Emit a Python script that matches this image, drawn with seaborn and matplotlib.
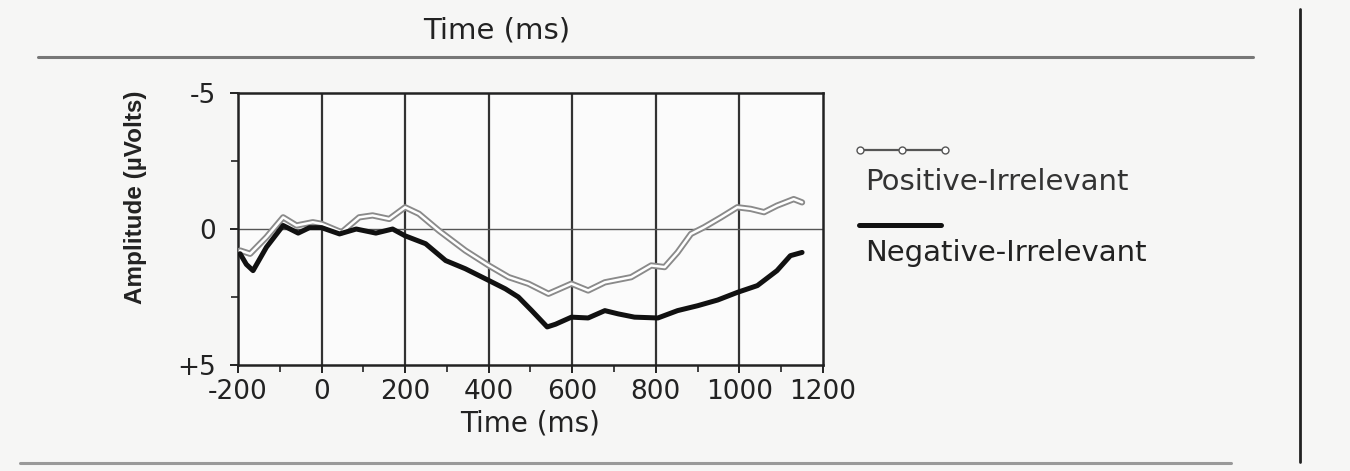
import numpy as np
import pandas as pd
import matplotlib.pyplot as plt
import seaborn as sns
from matplotlib.lines import Line2D
from matplotlib.ticker import MultipleLocator

# ---------------- DATA ----------------
pos_time = [-195, -171, -132, -92, -60, -21, 0, 48, 90, 122, 162, 200, 233, 281,
            344, 400, 448, 495, 543, 598, 638, 678, 741, 789, 821, 852, 884, 916,
            956, 995, 1027, 1059, 1090, 1130, 1150]
pos_amp = [0.79, 0.91, 0.30, -0.43, -0.13, -0.25, -0.19, 0.12, -0.43, -0.50, -0.37,
           -0.80, -0.56, 0.06, 0.79, 1.34, 1.77, 2.01, 2.38, 2.01, 2.26, 1.96, 1.77,
           1.34, 1.40, 0.86, 0.18, -0.07, -0.43, -0.80, -0.74, -0.62, -0.86, -1.10, -0.98]

neg_time = [-195, -180, -164, -132, -92, -56, -29, 0, 43, 83, 130, 170, 200, 249,
            297, 344, 400, 440, 471, 503, 540, 560, 598, 638, 678, 710, 749, 805,
            852, 900, 948, 995, 1043, 1090, 1122, 1150]
neg_amp = [0.91, 1.30, 1.53, 0.67, -0.13, 0.15, -0.05, -0.05, 0.18, 0.00, 0.15, 0.00,
           0.25, 0.54, 1.16, 1.46, 1.89, 2.20, 2.50, 3.00, 3.60, 3.50, 3.24, 3.27, 3.00,
           3.12, 3.24, 3.27, 3.00, 2.82, 2.61, 2.33, 2.08, 1.53, 0.98, 0.86]

labels = ["Positive-Irrelevant", "Negative-Irrelevant"]
x_ticks = [-200, 0, 200, 400, 600, 800, 1000, 1200]
y_ticks = [-5, 0, 5]
y_tick_labels = ["-5", "0", "+5"]

pos_df = pd.DataFrame({"time": pos_time, "amp": pos_amp})
neg_df = pd.DataFrame({"time": neg_time, "amp": neg_amp})

# ---------------- FIGURE ----------------
sns.set_style("white")
plt.rcParams["font.family"] = ["DejaVu Sans"]
plt.rcParams["axes.unicode_minus"] = False

fig = plt.figure(figsize=(13.5, 4.71), dpi=100)
fig.patch.set_facecolor("#f6f6f5")
ax = fig.add_axes([0.1763, 0.225, 0.4333, 0.5775])
ax.set_facecolor("#fbfbfb")

# gridlines
for xt in x_ticks[1:-1]:
    ax.axvline(xt, color="#333333", lw=1.6, zorder=1)
ax.axhline(0, color="#555555", lw=1.0, zorder=1)

# positive: hollow grey tube (overlapping open circles in the scan)
sns.lineplot(data=pos_df, x="time", y="amp", ax=ax, color="#8a8a8a", lw=4.5, zorder=3)
sns.lineplot(data=pos_df, x="time", y="amp", ax=ax, color="white", lw=1.8, zorder=4)
# negative: thick black
sns.lineplot(data=neg_df, x="time", y="amp", ax=ax, color="#111111", lw=3.6, zorder=5)

ax.set_xlim(-200, 1200)
ax.set_ylim(5, -5)
ax.set_xticks(x_ticks)
ax.xaxis.set_minor_locator(MultipleLocator(100))
ax.set_yticks(y_ticks)
ax.set_yticklabels(y_tick_labels)
ax.yaxis.set_minor_locator(MultipleLocator(2.5))
ax.tick_params(axis="both", which="both", bottom=True, left=True)
ax.tick_params(axis="both", which="major", direction="out", length=6, width=1.4,
               labelsize=19, colors="#222222", pad=4)
ax.tick_params(axis="both", which="minor", direction="out", length=5, width=1.2,
               colors="#222222")
ax.tick_params(axis="y", which="major", pad=10)
for s in ax.spines.values():
    s.set_visible(True)
    s.set_color("#222222")
    s.set_linewidth(1.8)

ax.set_xlabel("Time (ms)", fontsize=20, color="#222222", labelpad=3)
ax.set_ylabel("Amplitude (\u00b5Volts)", fontsize=17.5, color="#222222",
              family=["Liberation Sans", "DejaVu Sans"], fontweight="bold")
ax.yaxis.set_label_coords(-0.156, 0.615)

# legend drawn beside the axes, text below each key
leg_pos = Line2D([0.637, 0.700], [0.682, 0.682], transform=fig.transFigure,
                 color="#555555", lw=1.6, marker="o", markersize=5,
                 markerfacecolor="white", markeredgecolor="#555555",
                 markevery=[0, 1])
leg_pos_mid = Line2D([0.6685], [0.682], transform=fig.transFigure, color="#555555",
                     marker="o", markersize=5, markerfacecolor="white", lw=0)
leg_neg = Line2D([0.636, 0.697], [0.522, 0.522], transform=fig.transFigure,
                 color="#111111", lw=3.6)
fig.add_artist(leg_pos)
fig.add_artist(leg_pos_mid)
fig.add_artist(leg_neg)
fig.text(0.641, 0.613, labels[0], fontsize=21, color="#333333", va="center")
fig.text(0.641, 0.463, labels[1], fontsize=21, color="#222222", va="center")

# page furniture from the scanned figure
fig.text(0.368, 0.935, "Time (ms)", fontsize=21, color="#222222", ha="center",
         va="center")
fig.add_artist(Line2D([0.028, 0.928], [0.879, 0.879], transform=fig.transFigure,
                      color="#777777", lw=2.2))
fig.add_artist(Line2D([0.015, 0.912], [0.017, 0.017], transform=fig.transFigure,
                      color="#999999", lw=2.2))
fig.add_artist(Line2D([0.963, 0.963], [0.02, 0.98], transform=fig.transFigure,
                      color="#222222", lw=2.0))

fig.savefig("out.png", dpi=100, facecolor=fig.get_facecolor())
